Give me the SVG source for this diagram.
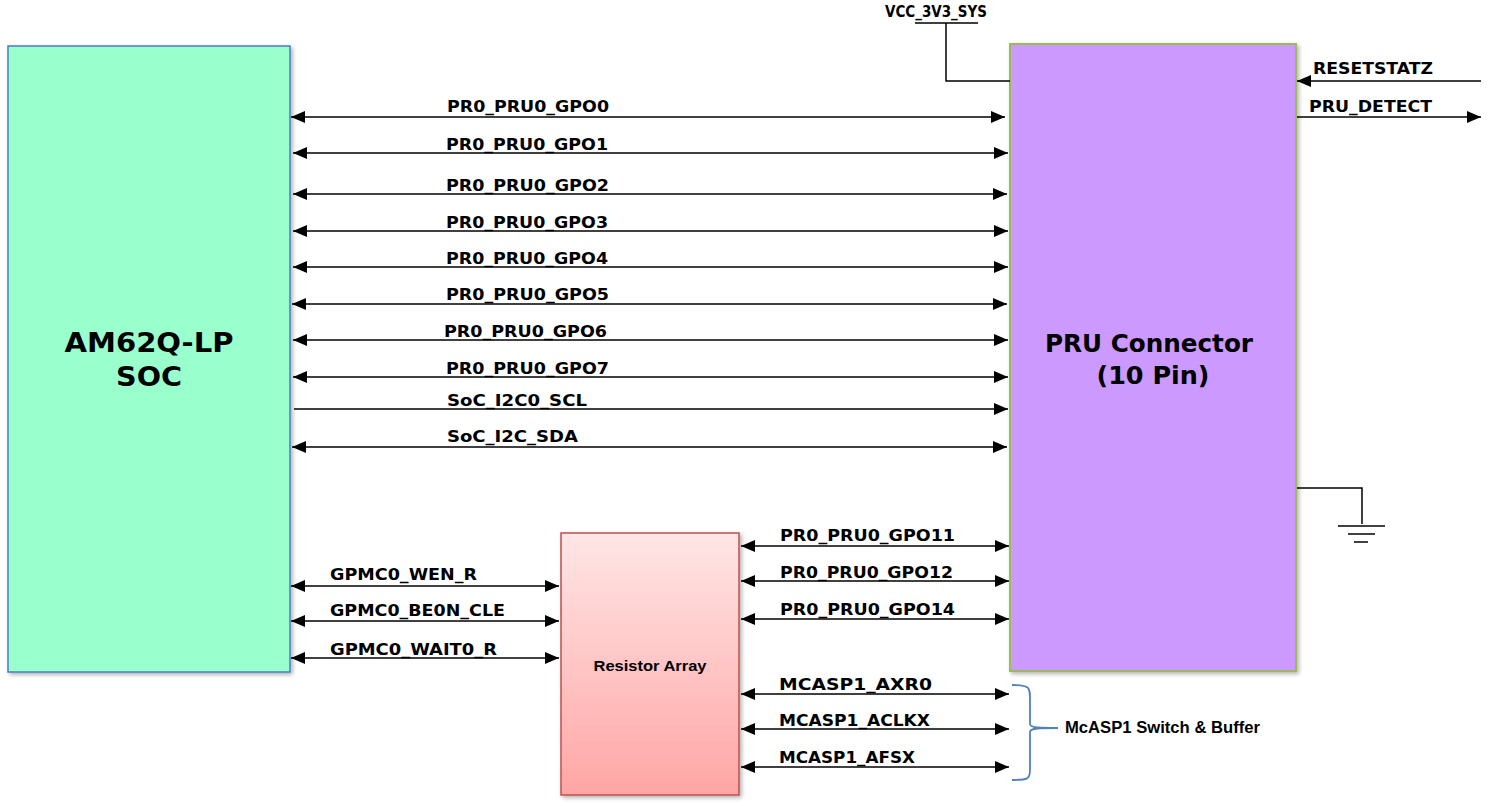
<svg xmlns="http://www.w3.org/2000/svg" width="1495" height="806" viewBox="0 0 1495 806">
<style>
.ln{stroke:#000;stroke-width:1.5;fill:none}
.lb{font-family:"DejaVu Sans",Verdana,sans-serif;font-weight:bold;font-size:15.5px;fill:#000}
.big{font-family:"DejaVu Sans",Verdana,sans-serif;font-weight:bold;fill:#000;text-anchor:middle}
</style>
<defs>
<marker id="ah" viewBox="0 0 14 12" refX="14" refY="6" markerWidth="14" markerHeight="12" markerUnits="userSpaceOnUse" orient="auto-start-reverse"><path d="M0,0 L14,6 L0,12 Z" fill="#000"/></marker>
<linearGradient id="rg" x1="0" y1="0" x2="0" y2="1"><stop offset="0" stop-color="#FFE6E6"/><stop offset="1" stop-color="#FFA5A5"/></linearGradient>
<filter id="sh" x="-5%" y="-5%" width="115%" height="115%"><feDropShadow dx="2" dy="2" stdDeviation="2" flood-color="#000" flood-opacity="0.3"/></filter>
</defs>

<g id="soc">
<rect x="8" y="46" width="282" height="626" fill="#99FFCC" stroke="#4A7CC4" stroke-width="1.5" filter="url(#sh)"/>
<text class="big" x="149" y="352" font-size="26" textLength="169" lengthAdjust="spacingAndGlyphs">AM62Q-LP</text>
<text class="big" x="149" y="386" font-size="26" textLength="66" lengthAdjust="spacingAndGlyphs">SOC</text>
</g>

<g id="pru">
<rect x="1010" y="44" width="286" height="627" fill="#CC99FF" stroke="#9BBB59" stroke-width="2" filter="url(#sh)"/>
<text class="big" x="1149" y="352" font-size="24" textLength="208" lengthAdjust="spacingAndGlyphs">PRU Connector</text>
<text class="big" x="1153" y="384" font-size="24" textLength="113" lengthAdjust="spacingAndGlyphs">(10 Pin)</text>
</g>

<g id="resistor">
<rect x="561" y="533" width="178" height="262" fill="url(#rg)" stroke="#C0504D" stroke-width="1.5" filter="url(#sh)"/>
<text x="650" y="671" font-family="'Liberation Sans',Arial,sans-serif" font-weight="bold" font-size="15" text-anchor="middle" textLength="113" lengthAdjust="spacingAndGlyphs">Resistor Array</text>
</g>

<g id="vcc">
<text class="lb" x="885" y="17" font-size="13" textLength="102" lengthAdjust="spacingAndGlyphs">VCC_3V3_SYS</text>
<line class="ln" x1="915" y1="23" x2="978" y2="23"/>
</g>

<g id="ground">
<line class="ln" x1="1338" y1="526" x2="1385" y2="526"/>
<line class="ln" x1="1348" y1="534" x2="1375" y2="534"/>
<line class="ln" x1="1354" y1="542" x2="1368" y2="542"/>
</g>

<g id="mcasp">
<path d="M1012,685 C1030,685 1030,687 1030,700 L1030,724 C1030,728 1040,728 1058,728 C1040,728 1030,728 1030,732 L1030,770 C1030,779 1028,780 1012,780" fill="none" stroke="#4F81BD" stroke-width="1.8"/>
<text x="1065" y="733" font-family="'Liberation Sans',Arial,sans-serif" font-weight="bold" font-size="16" textLength="195" lengthAdjust="spacingAndGlyphs">McASP1  Switch &amp; Buffer</text>
</g>

<g id="connectors">
<polyline class="ln" points="946,23 946,81 1010,81"/>
<polyline class="ln" points="1297,488 1362,488 1362,524"/>
<line class="ln" x1="1481" y1="81" x2="1297" y2="81" marker-end="url(#ah)"/>
<line class="ln" x1="1297" y1="117" x2="1481" y2="117" marker-end="url(#ah)"/>
<line class="ln" x1="291" y1="117" x2="1005" y2="117" marker-start="url(#ah)" marker-end="url(#ah)"/>
<line class="ln" x1="293" y1="153" x2="1008" y2="153" marker-start="url(#ah)" marker-end="url(#ah)"/>
<line class="ln" x1="293" y1="194" x2="1007" y2="194" marker-start="url(#ah)" marker-end="url(#ah)"/>
<line class="ln" x1="293" y1="231" x2="1008" y2="231" marker-start="url(#ah)" marker-end="url(#ah)"/>
<line class="ln" x1="293" y1="267" x2="1008" y2="267" marker-start="url(#ah)" marker-end="url(#ah)"/>
<line class="ln" x1="292" y1="304" x2="1007" y2="304" marker-start="url(#ah)" marker-end="url(#ah)"/>
<line class="ln" x1="293" y1="340" x2="1008" y2="340" marker-start="url(#ah)" marker-end="url(#ah)"/>
<line class="ln" x1="293" y1="377" x2="1008" y2="377" marker-start="url(#ah)" marker-end="url(#ah)"/>
<line class="ln" x1="294" y1="409" x2="1008" y2="409" marker-end="url(#ah)"/>
<line class="ln" x1="292" y1="447" x2="1007" y2="447" marker-start="url(#ah)" marker-end="url(#ah)"/>
<line class="ln" x1="741" y1="546" x2="1009" y2="546" marker-start="url(#ah)" marker-end="url(#ah)"/>
<line class="ln" x1="741" y1="581" x2="1009" y2="581" marker-start="url(#ah)" marker-end="url(#ah)"/>
<line class="ln" x1="741" y1="619" x2="1009" y2="619" marker-start="url(#ah)" marker-end="url(#ah)"/>
<line class="ln" x1="291" y1="586" x2="559" y2="586" marker-start="url(#ah)" marker-end="url(#ah)"/>
<line class="ln" x1="291" y1="621" x2="559" y2="621" marker-start="url(#ah)" marker-end="url(#ah)"/>
<line class="ln" x1="291" y1="658" x2="559" y2="658" marker-start="url(#ah)" marker-end="url(#ah)"/>
<line class="ln" x1="741" y1="694" x2="1009" y2="694" marker-start="url(#ah)" marker-end="url(#ah)"/>
<line class="ln" x1="741" y1="729" x2="1009" y2="729" marker-start="url(#ah)" marker-end="url(#ah)"/>
<line class="ln" x1="741" y1="767" x2="1009" y2="767" marker-start="url(#ah)" marker-end="url(#ah)"/>
<text class="lb" x="1313" y="74" textLength="120" lengthAdjust="spacingAndGlyphs">RESETSTATZ</text>
<text class="lb" x="1309" y="112" textLength="123" lengthAdjust="spacingAndGlyphs">PRU_DETECT</text>
<text class="lb" x="447" y="112" textLength="162" lengthAdjust="spacingAndGlyphs">PR0_PRU0_GPO0</text>
<text class="lb" x="446" y="150" textLength="162" lengthAdjust="spacingAndGlyphs">PR0_PRU0_GPO1</text>
<text class="lb" x="446" y="191" textLength="163" lengthAdjust="spacingAndGlyphs">PR0_PRU0_GPO2</text>
<text class="lb" x="446" y="228" textLength="162" lengthAdjust="spacingAndGlyphs">PR0_PRU0_GPO3</text>
<text class="lb" x="446" y="264" textLength="162" lengthAdjust="spacingAndGlyphs">PR0_PRU0_GPO4</text>
<text class="lb" x="446" y="300" textLength="163" lengthAdjust="spacingAndGlyphs">PR0_PRU0_GPO5</text>
<text class="lb" x="444" y="337" textLength="163" lengthAdjust="spacingAndGlyphs">PR0_PRU0_GPO6</text>
<text class="lb" x="446" y="374" textLength="163" lengthAdjust="spacingAndGlyphs">PR0_PRU0_GPO7</text>
<text class="lb" x="447" y="406" textLength="140" lengthAdjust="spacingAndGlyphs">SoC_I2C0_SCL</text>
<text class="lb" x="447" y="442" textLength="131" lengthAdjust="spacingAndGlyphs">SoC_I2C_SDA</text>
<text class="lb" x="780" y="541" textLength="175" lengthAdjust="spacingAndGlyphs">PR0_PRU0_GPO11</text>
<text class="lb" x="780" y="578" textLength="173" lengthAdjust="spacingAndGlyphs">PR0_PRU0_GPO12</text>
<text class="lb" x="780" y="615" textLength="175" lengthAdjust="spacingAndGlyphs">PR0_PRU0_GPO14</text>
<text class="lb" x="330" y="580" textLength="147" lengthAdjust="spacingAndGlyphs">GPMC0_WEN_R</text>
<text class="lb" x="330" y="616" textLength="175" lengthAdjust="spacingAndGlyphs">GPMC0_BE0N_CLE</text>
<text class="lb" x="330" y="655" textLength="167" lengthAdjust="spacingAndGlyphs">GPMC0_WAIT0_R</text>
<text class="lb" x="779" y="690" textLength="153" lengthAdjust="spacingAndGlyphs">MCASP1_AXR0</text>
<text class="lb" x="779" y="726" textLength="151" lengthAdjust="spacingAndGlyphs">MCASP1_ACLKX</text>
<text class="lb" x="779" y="763" textLength="136" lengthAdjust="spacingAndGlyphs">MCASP1_AFSX</text>
</g>
</svg>
